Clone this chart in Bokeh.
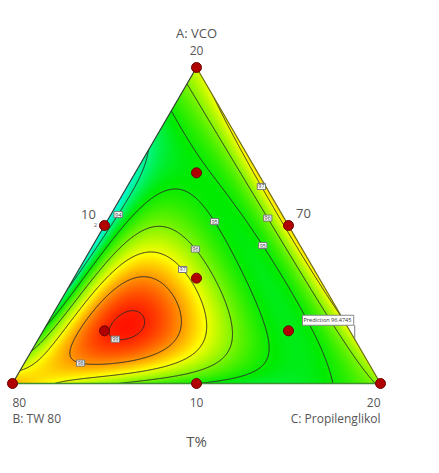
import numpy as np
from bokeh.plotting import figure
from bokeh.models import Range1d, Label
from bokeh.embed import file_html
from bokeh.resources import INLINE

# ---------------- data ----------------
# design points (pseudo-component fractions A: VCO, B: TW 80, C: Propilenglikol)
comp_A = [1, 0, 0, 1/2, 1/2, 0, 1/3, 2/3, 1/6, 1/6]
comp_B = [0, 1, 0, 1/2, 0, 1/2, 1/3, 1/6, 2/3, 1/6]
comp_C = [0, 0, 1, 0, 1/2, 1/2, 1/3, 1/6, 1/6, 2/3]

# T% values at compositions (A, C)
read_A = [0, 0, 0, 0, 0, 0, 0,
          1/6, 1/6, 1/6, 1/6, 1/6, 1/6,
          2/6, 2/6, 2/6, 2/6, 2/6,
          3/6, 3/6, 3/6, 3/6,
          4/6, 4/6, 4/6,
          5/6, 5/6,
          1,
          0.5, 2/3, 1/3, 1/6, 1/12, 1/12, 1/12, 1/12, 0.25, 0.75, 0.75, 0.5, 0.5,
          0.75, 0.6, 0.42, 0.5, 0.9]
read_C = [0, 1/6, 2/6, 3/6, 4/6, 5/6, 1,
          0, 1/6, 2/6, 3/6, 4/6, 5/6,
          0, 1/6, 2/6, 3/6, 4/6,
          0, 1/6, 2/6, 3/6,
          0, 1/6, 2/6,
          0, 1/6,
          0,
          1/12, 1/12, 1/12, 1/12, 1/12, 0.5, 0.75, 0.9, 0.7, 0.1, 0.2, 0.42, 0.47,
          0.05, 0.05, 0.05, 0.04, 0.03]
read_T = [97.8, 96.7, 95.8, 95.0, 94.6, 94.85, 96.2,
          95.1, 99.0, 98.2, 96.1, 94.7, 97.0,
          93.8, 97.9, 97.0, 95.0, 97.5,
          93.4, 96.0, 94.9, 97.6,
          93.7, 94.9, 97.4,
          94.8, 97.2,
          96.6,
          95.5, 94.5, 97.3, 97.5, 97.7, 96.4, 94.8, 96.1, 95.5, 95.0, 96.0, 95.2, 96.1,
          94.4, 94.5, 95.2, 94.6, 96.0]

contour_levels = [94, 95, 96, 97, 98, 99]
label_text = ["94", "95", "95", "96", "97", "97", "96", "98", "99"]
label_A = [0.54, 0.51, 0.46, 0.44, 0.37, 0.64, 0.49, 0.08, 0.16]
label_B = [0.45, 0.18, 0.11, 0.28, 0.36, 0.01, 0.05, 0.78, 0.66]
label_C = [0.01, 0.31, 0.43, 0.28, 0.27, 0.35, 0.46, 0.14, 0.18]

vertex_titles = ["A: VCO", "B: TW 80", "C: Propilenglikol"]
vertex_ticks = ["20", "80", "20"]
edge_ticks = ["10", "70", "10"]       # left edge, right edge, bottom edge
axis_title = "T%"
replicate_text = "2"
flag_text = "Prediction  96.4745"
flag_comp = (0.14, 0.0, 0.86)
color_values = [91.0, 93.2, 94.9, 97.1, 99.3]   # blue, cyan, green, yellow, red

# ---------------- geometry ----------------
S = 368.0            # pixels per unit
H = 316.0 / S        # triangle height in data units
FONT = "Open Sans"
GREY = "#555555"


def to_xy(a, b, c):
    a = np.asarray(a, float); b = np.asarray(b, float); c = np.asarray(c, float)
    t = a + b + c
    a, c = a / t, c / t
    return c + a / 2.0, a * H


def basis(a, b, c):
    return np.stack([a, b, c, a * b, a * c, b * c,
                     a * b * (a - b), a * c * (a - c), b * c * (b - c),
                     a * b * (a - b) ** 2, a * c * (a - c) ** 2, b * c * (b - c) ** 2,
                     a * a * b * c, a * b * b * c, a * b * c * c], axis=-1)


rA = np.array(read_A, float); rC = np.array(read_C, float); rB = 1.0 - rA - rC
coef, *_ = np.linalg.lstsq(basis(rA, rB, rC), np.array(read_T, float), rcond=None)

nx, ny = 520, 450
xs = np.linspace(0, 1, nx)
ys = np.linspace(0, H, ny)
XX, YY = np.meshgrid(xs, ys)
ga = YY / H
gc = XX - ga / 2.0
gb = 1.0 - ga - gc
Z = basis(ga, gb, gc) @ coef

# colour image
stops_rgb = np.array([[0, 0, 255], [0, 255, 255], [0, 235, 0], [255, 255, 0], [255, 0, 0]], float)
img = np.zeros((ny, nx), dtype=np.uint32)
view = img.view(dtype=np.uint8).reshape((ny, nx, 4))
for k in range(3):
    view[:, :, k] = np.interp(Z, color_values, stops_rgb[:, k]).astype(np.uint8)
inside = (gb >= -0.01) & (gc >= -0.01)
view[:, :, 3] = np.where(inside, 255, 0).astype(np.uint8)

p = figure(width=423, height=457, output_backend="svg", toolbar_location=None,
           x_range=Range1d(-12 / S, 411 / S), y_range=Range1d(-74 / S, 383 / S),
           x_axis_type=None, y_axis_type=None, min_border=0,
           outline_line_color=None, background_fill_color="white")
p.grid.visible = False

p.image_rgba(image=[img], x=0, y=0, dw=1, dh=H)
p.contour(x=xs, y=ys, z=Z, levels=contour_levels, line_color="#2a2a2a", line_width=1.0)

# white masks outside the triangle
p.patches(xs=[[0, 0.5, 0.5, -0.05, -0.05], [1, 0.5, 0.5, 1.05, 1.05]],
          ys=[[0, H, H + 0.05, H + 0.05, 0], [0, H, H + 0.05, H + 0.05, 0]],
          fill_color="white", line_color=None)
p.patches(xs=[[-0.05, 1.05, 1.05, -0.05]], ys=[[0, 0, -0.05, -0.05]],
          fill_color="white", line_color=None)

# triangle outline
tx, ty = to_xy([1, 0, 0, 1], [0, 1, 0, 0], [0, 0, 1, 0])
p.line(tx[:2], ty[:2], line_color="#2f3f2f", line_width=1.2)
p.line(tx[1:3], ty[1:3], line_color="#3f8f2f", line_width=1.5)
p.line(tx[2:4], ty[2:4], line_color="#6a6a10", line_width=1.2)

# design points
dx, dy = to_xy(comp_A, comp_B, comp_C)
p.scatter(dx, dy, size=10, fill_color="#b00000", line_color="#6a0000", line_width=1)

# contour labels snapped to their contour
for txt, la, lb, lc in zip(label_text, label_A, label_B, label_C):
    lx, ly = to_xy(la, lb, lc)
    d2 = (XX - lx) ** 2 + (YY - ly) ** 2
    near = (d2 < (12 / S) ** 2) & inside
    err = np.where(near, np.abs(Z - float(txt)), np.inf)
    j = np.unravel_index(np.argmin(err), err.shape)
    if np.isfinite(err[j]) and err[j] < 0.15:
        lx, ly = XX[j], YY[j]
    p.add_layout(Label(x=float(lx), y=float(ly), text=txt, text_font=FONT,
                       text_font_size="5.5px", text_color="#333333",
                       text_align="center", text_baseline="middle",
                       background_fill_color="white", border_line_color="#777777",
                       padding=1))

# vertex / edge texts
vx, vy = to_xy([1, 0, 0], [0, 1, 0], [0, 0, 1])


def lab(x, y, text, size, align="center", xo=0, yo=0, color=GREY, baseline="middle"):
    p.add_layout(Label(x=float(x), y=float(y), text=text, x_offset=xo, y_offset=yo,
                       text_font=FONT, text_font_size=size, text_color=color,
                       text_align=align, text_baseline=baseline))


lab(vx[0], vy[0], vertex_titles[0], "13px", yo=35)
lab(vx[0], vy[0], vertex_ticks[0], "12px", yo=17)
lab(vx[1], vy[1], vertex_ticks[1], "12px", align="left", yo=-19)
lab(vx[1], vy[1], vertex_titles[1], "12px", align="left", yo=-35)
lab(vx[2], vy[2], vertex_ticks[2], "12px", align="right", yo=-19)
lab(vx[2], vy[2], vertex_titles[2], "12px", align="right", yo=-35)

ex, ey = to_xy([0.5, 0.5, 0], [0.5, 0, 0.5], [0, 0.5, 0.5])
lab(ex[0], ey[0], edge_ticks[0], "13px", xo=-16, yo=11)
lab(ex[1], ey[1], edge_ticks[1], "13px", xo=15, yo=12)
lab(ex[2], ey[2], edge_ticks[2], "12px", yo=-19)
lab(ex[0], ey[0], replicate_text, "6px", xo=-9, yo=1, color="#666666")
lab(ex[2], ey[2], axis_title, "15px", yo=-57)

# prediction flag
fx, fy = to_xy(*flag_comp)
p.segment(x0=[fx], y0=[fy], x1=[fx], y1=[fy + 14 / S], line_color="#777777", line_width=1)
p.add_layout(Label(x=float(fx), y=float(fy), text=flag_text, x_offset=-1, y_offset=14,
                   text_font=FONT, text_font_size="5.5px", text_color="#333333",
                   text_align="right", text_baseline="bottom",
                   background_fill_color="white", border_line_color="#888888", padding=1))

open("out.html", "w").write(file_html(p, INLINE))
